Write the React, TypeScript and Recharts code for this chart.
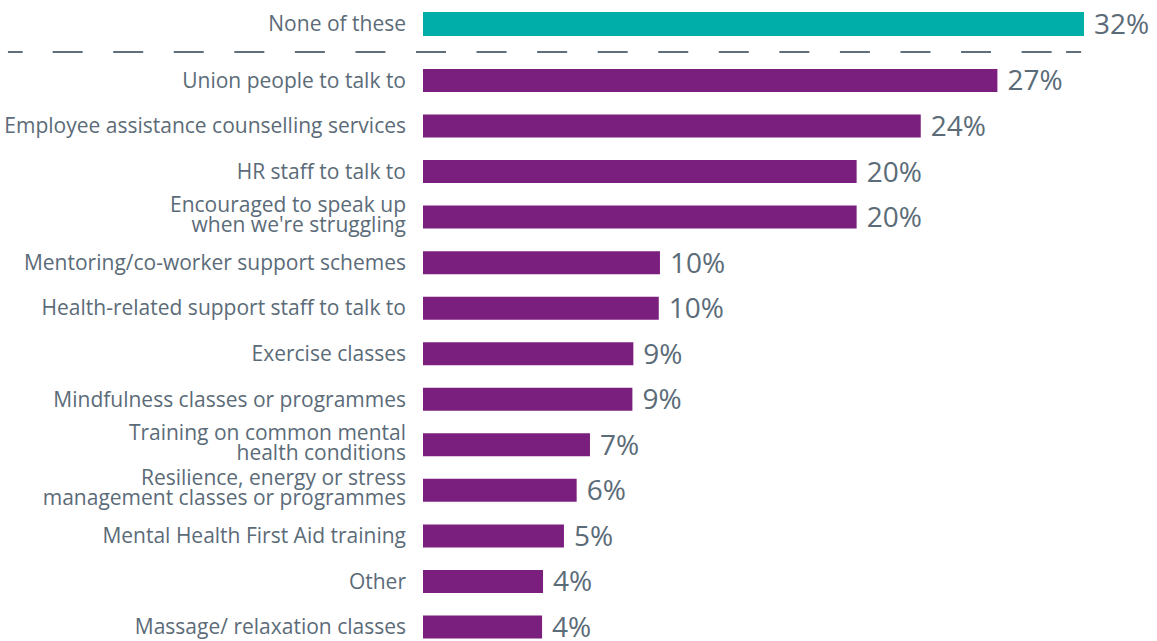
import { BarChart, Bar, XAxis, YAxis, LabelList, ReferenceLine } from 'recharts';

// Top row, shown apart from the rest
const topCategories = ['None of these'];
const topValues = [31.85];

// Support on offer (share of respondents, %)
const categories = [
  'Union people to talk to',
  'Employee assistance counselling services',
  'HR staff to talk to',
  'Encouraged to speak up\nwhen we\'re struggling',
  'Mentoring/co-worker support schemes',
  'Health-related support staff to talk to',
  'Exercise classes',
  'Mindfulness classes or programmes',
  'Training on common mental\nhealth conditions',
  'Resilience, energy or stress\nmanagement classes or programmes',
  'Mental Health First Aid training',
  'Other',
  'Massage/ relaxation classes',
];
const values = [27.42, 23.5, 20.22, 20.22, 10.16, 10.1, 8.8, 8.75, 6.58, 5.9, 5.25, 4.18, 4.13];

// bars start a little left of zero, as in the source graphic
const X_MIN = -1.96;
const X_MAX = 31.85;
const SEP_FROM = -23.19;

const colors = {
  top: '#00aea9',
  bar: '#7b1f7e',
  text: '#5b6b78',
  sep: '#5f707c',
};

const FONT = "'Open Sans', sans-serif";

// half dash at each end, like the original separator
const sepDash = [14.7, 30, ...Array(16).fill([30, 30.56]).flat(), 30, 14.5, 15, 200].join(' ');

const topData = topCategories.map((name, i) => ({ name, value: topValues[i] }));
const data = categories.map((name, i) => ({ name, value: values[i] }));

const CategoryTick = (props: any) => {
  const { x, y, payload } = props;
  const lines = String(payload.value).split('\n');
  const lineHeight = 20;
  return (
    <text x={x} y={y} textAnchor="end" fill={colors.text} fontSize={21} fontFamily={FONT}>
      {lines.map((line, i) => (
        <tspan key={i} x={x} dy={i === 0 ? 7 - (lines.length - 1) * 12.5 : lineHeight}>
          {line}
        </tspan>
      ))}
    </text>
  );
};

const pct = (v: any) => `${Math.round(Number(v))}%`;

export default function App() {
  return (
    <div
      style={{
        position: 'absolute',
        top: 0,
        left: 0,
        width: 1157,
        height: 641,
        overflow: 'hidden',
        background: '#fff',
      }}
    >
      <div style={{ position: 'absolute', top: 0, left: 0 }}>
        <BarChart
          width={1157}
          height={54}
          data={topData}
          layout="vertical"
          margin={{ top: -4, right: 73, bottom: 2, left: 0 }}
        >
          <XAxis type="number" domain={[X_MIN, X_MAX]} hide allowDataOverflow />
          <YAxis
            type="category"
            dataKey="name"
            width={423}
            axisLine={false}
            tickLine={false}
            tickSize={0}
            tickMargin={17}
            tick={<CategoryTick />}
            interval={0}
          />
          {/* dashed separator under the top row */}
          <ReferenceLine
            segment={[
              { x: SEP_FROM, y: topCategories[0] },
              { x: X_MAX, y: topCategories[0] },
            ]}
            position="end"
            ifOverflow="visible"
            stroke={colors.sep}
            strokeWidth={2}
            strokeDasharray={sepDash}
          />
          <Bar
            dataKey={(d: any) => [X_MIN, d.value]}
            fill={colors.top}
            barSize={24}
            isAnimationActive={false}
          >
            <LabelList
              dataKey="value"
              position="right"
              offset={10}
              formatter={pct}
              fill={colors.text}
              fontSize={28}
              fontFamily={FONT}
            />
          </Bar>
        </BarChart>
      </div>

      <div style={{ position: 'absolute', top: 58, left: 0 }}>
        <BarChart
          width={1157}
          height={592}
          data={data}
          layout="vertical"
          margin={{ top: 0, right: 73, bottom: 0, left: 0 }}
        >
          <XAxis type="number" domain={[X_MIN, X_MAX]} hide allowDataOverflow />
          <YAxis
            type="category"
            dataKey="name"
            width={423}
            axisLine={false}
            tickLine={false}
            tickSize={0}
            tickMargin={17}
            tick={<CategoryTick />}
            interval={0}
          />
          <Bar
            dataKey={(d: any) => [X_MIN, d.value]}
            fill={colors.bar}
            barSize={23}
            isAnimationActive={false}
          >
            <LabelList
              dataKey="value"
              position="right"
              offset={10}
              formatter={pct}
              fill={colors.text}
              fontSize={28}
              fontFamily={FONT}
            />
          </Bar>
        </BarChart>
      </div>
    </div>
  );
}
